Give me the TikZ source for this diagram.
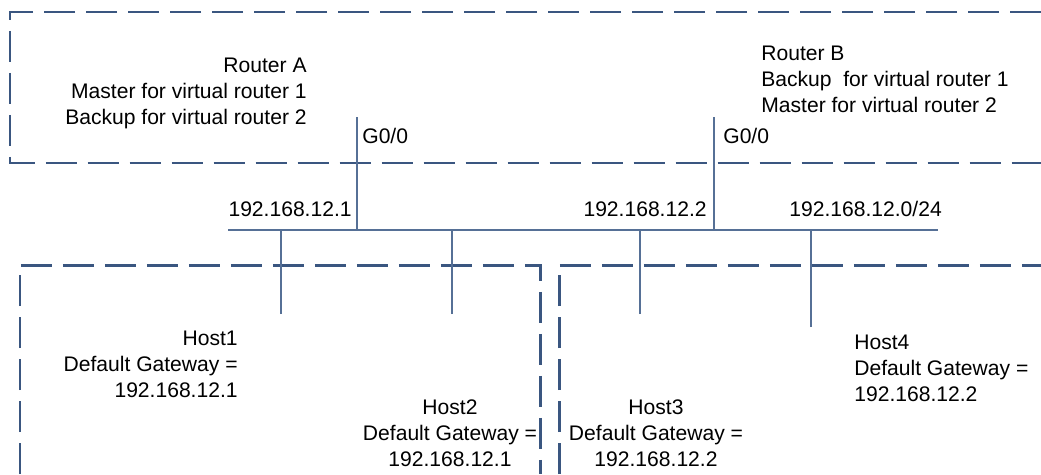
\documentclass[tikz,border=0pt]{standalone}
\usepackage{fontspec}
\setmainfont{Liberation Sans}
\usetikzlibrary{positioning,calc}
\definecolor{lanblue}{RGB}{58,86,128}
\definecolor{lanline}{RGB}{86,112,150}

\begin{document}
\begin{tikzpicture}[
        x=0.02cm, y=-0.02cm,
        lbl/.style={
            inner sep=0pt,
            font=\fontsize{12}{14.8}\selectfont
        },
        zone/.style={
            draw=lanblue,
            line width=1.7pt,
            dash pattern=on 0.62cm off 0.22cm
        },
        bus/.style={
            draw=lanline,
            line width=1.2pt
        },
        drop/.style={
            draw=lanline,
            line width=0.6pt
        }
    ]
    \useasboundingbox (0,0) rectangle (1041,474);

    % dashed zones
    \draw[zone] (1041,12) -- (10,12) -- (10,163) -- (1041,163);
    \draw[zone] (20,474) -- (20,265) -- (540,265) -- (540,474);
    \draw[zone] (559,474) -- (559,265) -- (1041,265);

    % LAN segment
    \coordinate (busL) at (228,230);
    \coordinate (busR) at (938,230);
    \coordinate (gA) at (357,117);
    \coordinate (gB) at (714,117);
    \coordinate (h1) at (281,314);
    \coordinate (h2) at (452,314);
    \coordinate (h3) at (640,314);
    \coordinate (h4) at (811,327);

    \draw[bus] (busL) -- (busR);
    \draw[drop] (gA) -- (gA |- busL);
    \draw[drop] (gB) -- (gB |- busL);
    \draw[drop] (h1) -- (h1 |- busL);
    \draw[drop] (h2) -- (h2 |- busL);
    \draw[drop] (h3) -- (h3 |- busL);
    \draw[drop] (h4) -- (h4 |- busL);

    % routers
    \node[lbl, align=right, anchor=east] (routerA) at (307,93) {
        Router A\\
        Master for virtual router 1\\
        Backup for virtual router 2
    };
    \node[lbl, align=left, anchor=west] (routerB) at (761,79) {
        Router B\\
        Backup\ \ for virtual router 1\\
        Master for virtual router 2
    };
    \node[lbl, anchor=west] (ifA) at (362,136) {G0/0};
    \node[lbl, anchor=west] (ifB) at (723,136) {G0/0};

    % addresses
    \node[lbl, anchor=east] (ipA) at (352,209) {192.168.12.1};
    \node[lbl, anchor=east] (ipB) at (707,209) {192.168.12.2};
    \node[lbl, anchor=west] (net) at (789,209) {192.168.12.0/24};

    % hosts
    \node[lbl, align=right, anchor=east] (host1) at (238,364) {
        Host1\\
        Default Gateway =\\
        192.168.12.1
    };
    \node[lbl, align=center] (host2) at (450,433) {
        Host2\\
        Default Gateway =\\
        192.168.12.1
    };
    \node[lbl, align=center] (host3) at (656,433) {
        Host3\\
        Default Gateway =\\
        192.168.12.2
    };
    \node[lbl, align=left, anchor=west] (host4) at (854,368) {
        Host4\\
        Default Gateway =\\
        192.168.12.2
    };

\end{tikzpicture}
\end{document}
